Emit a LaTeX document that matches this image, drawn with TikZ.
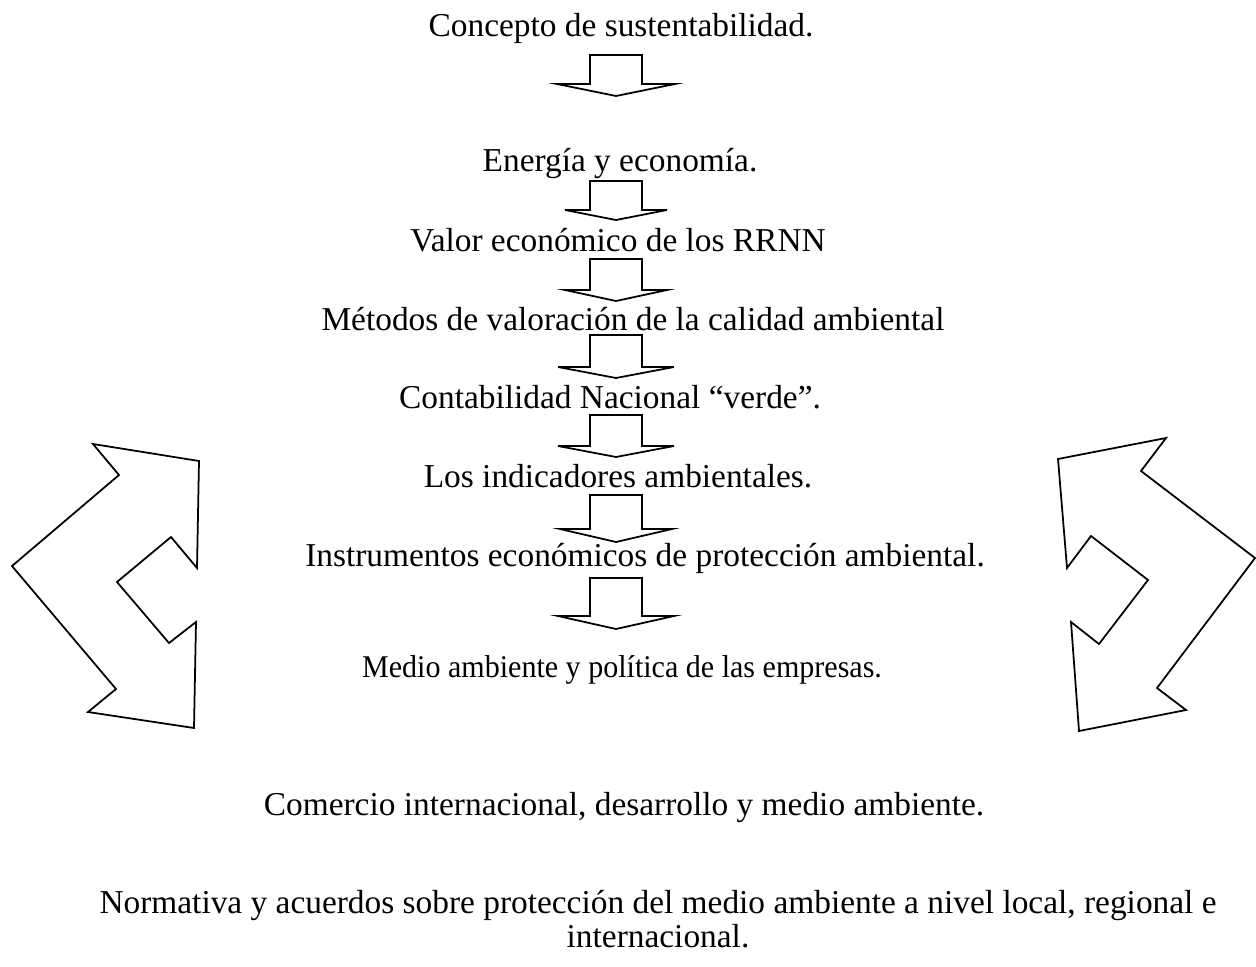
\documentclass[tikz,border=0pt]{standalone}
\usepackage{fontspec}
\setmainfont{Liberation Serif}
\tikzset{
  topic/.style={anchor=base, inner sep=0pt, font=\fontsize{19}{34}\selectfont},
  blockarrow/.style={draw, line width=1pt, line join=miter, fill=white},
}
\begin{document}
\begin{tikzpicture}[x=0.02cm, y=-0.02cm]
    \useasboundingbox (0,0) rectangle (1256,966);
    % temas
    \node[topic] (sust) at (621,37) {Concepto de sustentabilidad.};
    \node[topic] (ener) at (620,172) {Energía y economía.};
    \node[topic] (valor) at (618,251) {Valor económico de los RRNN};
    \node[topic] (metod) at (633,330) {Métodos de valoración de la calidad ambiental};
    \node[topic] (conta) at (610,408) {Contabilidad Nacional “verde”.};
    \node[topic] (indic) at (618,487) {Los indicadores ambientales.};
    \node[topic] (instr) at (645,566) {Instrumentos económicos de protección ambiental.};
    \node[topic, font=\fontsize{18}{20}\selectfont, xscale=0.95] (empre) at (622,677) {Medio ambiente y política de las empresas.};
    \node[topic] (comer) at (624,815) {Comercio internacional, desarrollo y medio ambiente.};
    \node[topic] (norma) at (658,913) {Normativa y acuerdos sobre protección del medio ambiente a nivel local, regional e};
    \node[topic] (normb) at (658,947) {internacional.};
    % flechas hacia abajo
    \foreach \t/\w/\h/\e in {55/84/96/557, 181/210/220/565, 259/290/301/565, 335/367/378/558,
                             415/446/457/558, 495/529/542/560, 578/616/629/558}
        \draw[blockarrow] (590,\t) -- (642,\t) -- (642,\w) -- ({1232-\e},\w) -- (616,\h)
            -- (\e,\w) -- (590,\w) -- cycle;
    % flechas laterales
    \draw[blockarrow] (93,444) -- (199,461) -- (197,568) -- (171,537) -- (117,582) -- (169,643)
        -- (196,622) -- (194,728) -- (88,712) -- (116,689) -- (12,566) -- (119,475) -- cycle;
    \draw[blockarrow] (1058,459) -- (1166,438) -- (1141,471) -- (1255,558) -- (1157,688) -- (1186,710)
        -- (1079,731) -- (1071,622) -- (1099,644) -- (1148,580) -- (1091,536) -- (1067,568) -- cycle;
\end{tikzpicture}
\end{document}
